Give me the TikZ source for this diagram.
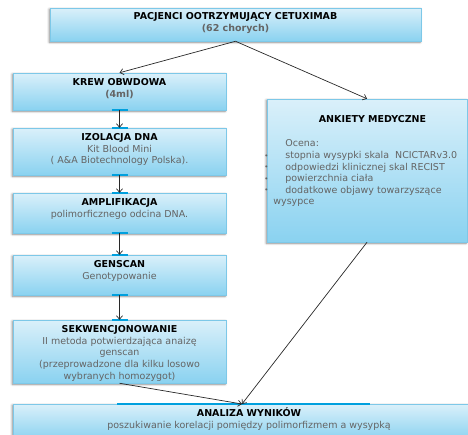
\documentclass[tikz,border=0pt]{standalone}
\usepackage{fontspec}
\setmainfont{DejaVu Sans}
\usepackage{xcolor}
\usetikzlibrary{
  shadows.blur,
  positioning,
  arrows.meta
}
\definecolor{boxtop}{RGB}{218,240,250}
\definecolor{boxbot}{RGB}{138,210,240}
\definecolor{boxline}{RGB}{125,200,232}
\definecolor{barcyan}{RGB}{0,160,222}
\definecolor{txtgray}{RGB}{100,100,100}
\definecolor{arrowgray}{RGB}{40,40,40}
\tikzset{
  every picture/.style={line width=0.75pt},
  stage/.style={draw=boxline, line width=0.5pt, top color=boxtop, bottom color=boxbot,
    inner sep=0pt, blur shadow={shadow xshift=-0.8pt, shadow yshift=-1.2pt,
    shadow blur steps=4, shadow opacity=50}},
  caption/.style={anchor=north, inner sep=0pt, align=center,
    font=\fontsize{9.5}{11.6}\selectfont},
  flow/.style={draw=arrowgray, line width=0.7pt, -{Straight Barb[length=3.5pt,width=6pt]}},
  tick/.style={draw=barcyan, line width=1.6pt}
}
\newcommand{\dotitem}{\makebox[21pt][l]{\raisebox{0.5pt}{\scriptsize\textbullet}}}

\begin{document}
\begin{tikzpicture}[x=1pt,y=-1pt]
\path[use as bounding box, clip] (0,0) rectangle (468,434);

% boxes
\node[stage, minimum width=371pt, minimum height=33pt] (top) at (235.5,24.5) {};
\node[stage, minimum width=213pt, minimum height=37pt] (krew) at (119.5,91.5) {};
\node[stage, minimum width=213pt, minimum height=47pt] (izol) at (119.5,151.5) {};
\node[stage, minimum width=213pt, minimum height=40pt] (ampl) at (119.5,213) {};
\node[stage, minimum width=213pt, minimum height=40pt] (gen) at (119.5,275) {};
\node[stage, minimum width=213pt, minimum height=63pt] (sekw) at (119.5,351.5) {};
\node[stage, minimum width=200pt, minimum height=143pt] (ankiety) at (367,170.5) {};
\node[stage, minimum width=472pt, minimum height=36pt] (analiza) at (249,422) {};

% texts
\node[caption, below=4.5pt of top.north] (top-txt)
  {\textbf{PACJENCI OOTRZYMUJĄCY CETUXIMAB}\\{\color{txtgray}\textbf{(62 chorych)}}};
\node[caption, below=5.5pt of krew.north] (krew-txt)
  {\textbf{KREW OBWDOWA}\\{\color{txtgray}\textbf{(4ml)}}};
\node[caption, below=5.5pt of izol.north] (izol-txt)
  {\textbf{IZOLACJA DNA}\\{\color{txtgray}Kit Blood Mini}\\{\color{txtgray}( A\&A Biotechnology Polska).}};
\node[caption, below=5.5pt of ampl.north] (ampl-txt)
  {\textbf{AMPLIFIKACJA}\\{\color{txtgray}polimorficznego odcina DNA.}};
\node[caption, below=5.5pt of gen.north] (gen-txt)
  {\textbf{GENSCAN}\\{\color{txtgray}Genotypowanie}};
\node[caption, below=5.5pt of sekw.north] (sekw-txt)
  {\textbf{SEKWENCJONOWANIE}\\{\color{txtgray}II metoda potwierdzająca anaizę}\\{\color{txtgray}genscan}\\
   {\color{txtgray}(przeprowadzone dla kilku losowo}\\{\color{txtgray}wybranych homozygot)}};
\node[caption, below=16.5pt of ankiety.north, xshift=5.5pt] (ankiety-txt) {\textbf{ANKIETY MEDYCZNE}};
\node[caption, anchor=north west, align=left, text=txtgray] (ocena) at (264,139.5)
  {\hspace*{21pt}Ocena:\\
   \dotitem stopnia wysypki skala\ \ NCICTARv3.0\\
   \dotitem odpowiedzi klinicznej skal RECIST\\
   \dotitem powierzchnia ciała\\
   \dotitem dodatkowe objawy towarzyszące\\
   \hspace*{9pt}wysypce};
\node[caption, below=3.5pt of analiza.north] (analiza-txt)
  {\textbf{ANALIZA WYNIKÓW}\\{\color{txtgray}poszukiwanie korelacji pomiędzy polimorfizmem a wysypką}};

% connection marks
\foreach \p in {krew.south, izol.north, izol.south, ampl.north, ampl.south, gen.north, gen.south, sekw.north}
  \draw[tick] ([xshift=-8pt]\p) -- ([xshift=8pt]\p);
\draw[tick] (117,404) -- (370,404);

% arrows
\coordinate (meet) at (242,404);
\draw[flow] (top.south) -- (krew.north);
\draw[flow] (top.south) -- (ankiety.north);
\draw[flow] (krew.south) -- (izol.north);
\draw[flow] (izol.south) -- (ampl.north);
\draw[flow] (ampl.south) -- (gen.north);
\draw[flow] (gen.south) -- (sekw.north);
\draw[flow] (sekw.south) -- (meet);
\draw[flow] (ankiety.south) -- (meet);
\end{tikzpicture}
\end{document}
